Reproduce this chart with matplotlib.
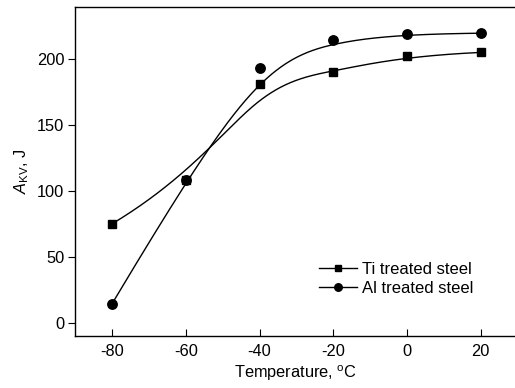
import numpy as np
import matplotlib
matplotlib.use("Agg")
import matplotlib.pyplot as plt

plt.rcParams["font.family"] = ["Liberation Sans", "DejaVu Sans"]
plt.rcParams["mathtext.fontset"] = "custom"
plt.rcParams["mathtext.rm"] = "Liberation Sans"
plt.rcParams["mathtext.it"] = "Liberation Sans:italic"

# Charpy impact energy vs test temperature
temperature = [-80, -60, -40, -20, 0, 20]
ti_steel = [75.2, 108.8, 181.3, 190.8, 202.7, 205.3]
al_steel = [14.6, 108.2, 193.4, 214.6, 219.2, 219.9]
series_labels = ["Ti treated steel", "Al treated steel"]
x_ticks = [-80, -60, -40, -20, 0, 20]
y_ticks = [0, 50, 100, 150, 200]


def bspline_curve(xs, ys, n=400, k=3):
    """Clamped uniform B-spline using the data points as control points."""
    P = np.column_stack([xs, ys]).astype(float)
    m = len(P)
    inner = np.linspace(0, 1, m - k + 1)
    knots = np.concatenate([np.zeros(k), inner, np.ones(k)])
    t = np.linspace(0, 1, n)
    # degree-0 basis
    N = np.zeros((n, len(knots) - 1))
    for i in range(len(knots) - 1):
        N[:, i] = (t >= knots[i]) & (t < knots[i + 1])
    N[-1, m - 1] = 1.0
    for d in range(1, k + 1):
        Nn = np.zeros((n, len(knots) - 1 - d))
        for i in range(len(knots) - 1 - d):
            a = knots[i + d] - knots[i]
            b = knots[i + d + 1] - knots[i + 1]
            left = (t - knots[i]) / a * N[:, i] if a > 0 else 0
            right = (knots[i + d + 1] - t) / b * N[:, i + 1] if b > 0 else 0
            Nn[:, i] = left + right
        N = Nn
    C = N[:, :m] @ P
    return C[:, 0], C[:, 1]


fig = plt.figure(figsize=(5.15, 3.88), dpi=100)
ax = fig.add_axes([0.1462, 0.134, 0.8538, 0.8487])

lw = 1.0
for ys, mk, ms, lab in [(ti_steel, "s", 6.2, series_labels[0]),
                        (al_steel, "o", 6.8, series_labels[1])]:
    cx, cy = bspline_curve(temperature, ys)
    ax.plot(cx, cy, color="black", lw=lw, zorder=2)
    ax.plot(temperature, ys, linestyle="none", marker=mk, ms=ms,
            color="black", zorder=3)
    ax.plot([], [], color="black", lw=lw, marker=mk, ms=ms, label=lab)

ax.set_xlim(-90, 29.3)
ax.set_ylim(-10, 240)
ax.set_xticks(x_ticks)
ax.set_xticklabels([str(v) for v in x_ticks])
ax.set_yticks(y_ticks)

ax.spines["right"].set_visible(False)
for s in ["left", "bottom", "top"]:
    ax.spines[s].set_linewidth(1.0)

ax.tick_params(axis="x", direction="in", length=5, width=0.8,
               labelsize=11.8, pad=6)
ax.tick_params(axis="y", direction="out", length=5, width=0.8,
               labelsize=11.8, pad=3)

ax.set_xlabel("Temperature, $^{\\mathrm{o}}$C", fontsize=11.8, labelpad=3)
ax.set_ylabel("$A_{\\mathrm{KV}}$, J", fontsize=11.8, labelpad=4)

leg = ax.legend(loc="upper left", bbox_to_anchor=(0.554, 0.226),
                frameon=False, fontsize=12, handlelength=2.3,
                handletextpad=0.3, labelspacing=0.28, borderpad=0,
                borderaxespad=0, markerscale=0.8)

fig.savefig("out.png", dpi=100)
